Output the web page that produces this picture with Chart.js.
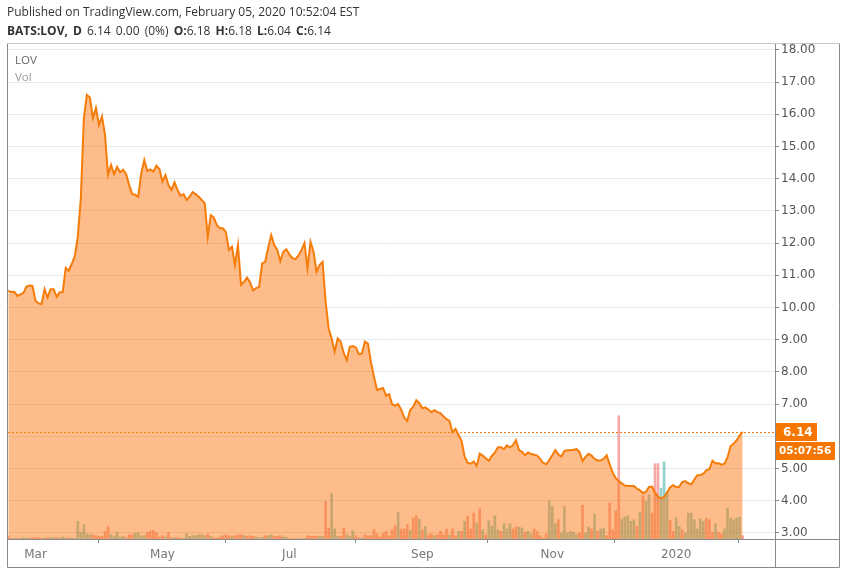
<!DOCTYPE html>
<html>
<head>
<meta charset="utf-8">
<script src="https://cdn.jsdelivr.net/npm/chart.js@4.4.1/dist/chart.umd.min.js"></script>
<style>
  html, body { margin: 0; padding: 0; background: #fff; }
  #wrap { position: relative; width: 846px; height: 574px; overflow: hidden; }
  #mycanvas { position: absolute; left: 0; top: 0; }
  .txt { position: absolute; white-space: nowrap; font-family: "Open Sans", sans-serif; }
  #pub { left: 7px; top: 3px; font-size: 12px; color: #333; }
  #sym { left: 7px; top: 22px; font-size: 12px; color: #333; word-spacing: 2px; }
  #sym b { font-weight: 700; }
  #lov { left: 15px; top: 52px; font-size: 11.5px; color: #666; }
  #vol { left: 15px; top: 69px; font-size: 11.5px; color: #999; }
</style>
</head>
<body>
<div id="wrap">
  <canvas id="mycanvas" width="846" height="574"></canvas>
  <div class="txt" id="pub">Published on TradingView.com, February 05, 2020 10:52:04 EST</div>
  <div class="txt" id="sym"><b>BATS:LOV, D</b> 6.14 0.00 (0%) <b>O:</b>6.18 <b>H:</b>6.18 <b>L:</b>6.04 <b>C:</b>6.14</div>
  <div class="txt" id="lov">LOV</div>
  <div class="txt" id="vol">Vol</div>
</div>
<script>
// daily closes, one per trading day (Feb 2019 - Feb 5 2020)
var prices = [
  10.52, 10.48, 10.49, 10.36, 10.41, 10.45, 10.65, 10.68, 10.67, 10.21,
  10.13, 10.11, 10.57, 10.31, 10.57, 10.57, 10.33, 10.47, 10.47, 11.23,
  11.14, 11.35, 11.60, 12.20, 13.39, 15.88, 16.60, 16.52, 15.88, 16.20,
  15.67, 15.93, 15.36, 14.12, 14.43, 14.14, 14.37, 14.20, 14.28, 14.14,
  13.80, 13.52, 13.50, 13.44, 14.17, 14.58, 14.24, 14.29, 14.22, 14.40,
  14.30, 13.91, 14.11, 13.80, 13.65, 13.89, 13.65, 13.47, 13.52, 13.34,
  13.44, 13.58, 13.52, 13.44, 13.34, 13.24, 12.20, 12.87, 12.79, 12.56,
  12.46, 12.46, 12.34, 11.79, 11.89, 11.32, 11.94, 10.70, 10.80, 10.93,
  10.78, 10.53, 10.60, 10.64, 11.37, 11.42, 11.86, 12.25, 11.94, 11.79,
  11.44, 11.73, 11.81, 11.65, 11.53, 11.50, 11.61, 11.78, 12.00, 11.22,
  12.04, 11.73, 11.11, 11.32, 11.42, 10.18, 9.35, 9.04, 8.63, 9.04,
  8.94, 8.58, 8.37, 8.78, 8.80, 8.76, 8.55, 8.57, 8.94, 8.88,
  8.30, 7.85, 7.44, 7.47, 7.50, 7.26, 7.31, 7.00, 6.95, 7.00,
  6.83, 6.58, 6.48, 6.82, 6.92, 7.12, 7.03, 6.87, 6.90, 6.83,
  6.75, 6.81, 6.75, 6.72, 6.62, 6.53, 6.48, 6.12, 6.23, 6.04,
  5.85, 5.37, 5.18, 5.15, 5.22, 5.08, 5.46, 5.40, 5.32, 5.24,
  5.39, 5.49, 5.66, 5.66, 5.60, 5.72, 5.66, 5.72, 5.88, 5.57,
  5.52, 5.41, 5.50, 5.45, 5.43, 5.40, 5.30, 5.17, 5.13, 5.26,
  5.41, 5.57, 5.44, 5.37, 5.55, 5.57, 5.57, 5.58, 5.60, 5.52,
  5.23, 5.36, 5.46, 5.40, 5.30, 5.25, 5.25, 5.30, 5.41, 5.12,
  4.87, 4.70, 4.61, 4.54, 4.47, 4.46, 4.46, 4.46, 4.38, 4.32,
  4.24, 4.28, 4.43, 4.44, 4.25, 4.12, 4.07, 4.12, 4.25, 4.42,
  4.48, 4.42, 4.43, 4.58, 4.61, 4.54, 4.51, 4.66, 4.79, 4.80,
  4.84, 4.95, 4.98, 5.24, 5.16, 5.16, 5.12, 5.15, 5.35, 5.70,
  5.77, 5.87, 6.02, 6.14
];

// daily volume (thousands of shares)
var volumes = [
  33, 7, 7, 7, 7, 13, 13, 7, 13, 13,
  13, 7, 13, 13, 13, 13, 13, 13, 20, 13,
  13, 7, 10, 177, 67, 143, 53, 43, 43, 33,
  27, 27, 77, 127, 43, 27, 67, 20, 27, 13,
  43, 43, 60, 67, 33, 33, 67, 77, 87, 67,
  20, 33, 20, 67, 13, 13, 13, 7, 7, 53,
  27, 33, 33, 43, 43, 33, 53, 27, 13, 7,
  20, 33, 43, 33, 27, 33, 43, 43, 33, 27,
  33, 27, 20, 13, 20, 33, 33, 43, 27, 27,
  33, 20, 20, 3, 2, 2, 2, 3, 7, 33,
  27, 27, 27, 27, 27, 377, 110, 453, 100, 27,
  27, 110, 43, 27, 83, 33, 13, 13, 43, 33,
  33, 93, 53, 20, 60, 77, 33, 93, 133, 267,
  100, 100, 143, 87, 210, 233, 200, 93, 127, 43,
  53, 33, 43, 77, 43, 100, 43, 100, 33, 77,
  77, 177, 227, 100, 260, 160, 303, 93, 43, 183,
  127, 233, 93, 77, 153, 100, 153, 100, 120, 120,
  110, 67, 77, 53, 100, 77, 33, 10, 53, 383,
  327, 153, 193, 60, 327, 60, 77, 67, 43, 60,
  337, 60, 120, 100, 250, 77, 100, 110, 33, 360,
  93, 283, 1235, 200, 220, 233, 177, 193, 127, 270,
  433, 377, 443, 260, 755, 755, 510, 773, 477, 187,
  77, 210, 127, 93, 60, 260, 260, 193, 100, 200,
  177, 210, 193, 67, 153, 67, 53, 100, 310, 210,
  193, 210, 220, 33
];

// volume bar direction: u = up, d = down, . = take it from the close
var volDir = [
  'd.........', '..........', '...uuuuudd', 'dddduuuuu.', 'dduuuudddd',
  '.d.d.....u', '.uuuuud...', 'dddd.ddd.d', '.....duudd', 'd.u......d',
  'd....dduu.', '.du.ud..d.', 'dd.ddddddu', 'ddduddud..', 'd.d.dduddu',
  'dud.dudu.u', '.u.du.uddu', 'u..ud....u', 'uuduu.....', 'd.u.u.uudd',
  '.dduuuuudu', 'duuddduuud', 'duuduuuuuu', 'udddudduuu', 'uuud'
].join('');

var monthTicks = [9, 51, 93, 137, 180, 221];
var monthLabels = ['Mar', 'May', 'Jul', 'Sep', 'Nov', '2020'];
var priceTicks = [3, 4, 5, 6, 7, 8, 9, 10, 11, 12, 13, 14, 15, 16, 17, 18];
var lastPrice = 6.14;
var countdown = '05:07:56';

var lineColor = '#f67c0a';
var upCol = 'rgba(38,166,154,0.5)';
var dnCol = 'rgba(239,83,80,0.5)';

var priceData = prices.map(function (p, i) { return { x: i, y: p }; });
var volData = volumes.map(function (v, i) { return { x: i, y: v }; });
var volColors = volumes.map(function (v, i) {
  var c = volDir.charAt(i);
  if (c !== 'u' && c !== 'd') c = (i > 0 && prices[i] < prices[i - 1]) ? 'd' : 'u';
  return c === 'd' ? dnCol : upCol;
});

var axisFont = { family: 'DejaVu Sans', size: 12 };

var framePlugin = {
  id: 'frame',
  afterDatasetsDraw: function (chart) {
    var ctx = chart.ctx, a = chart.chartArea;
    var y = Math.round(chart.scales.y.getPixelForValue(lastPrice)) + 0.5;
    ctx.save();
    ctx.strokeStyle = lineColor;
    ctx.lineWidth = 1;
    ctx.setLineDash([2, 2]);
    ctx.beginPath();
    ctx.moveTo(a.left, y);
    ctx.lineTo(a.right, y);
    ctx.stroke();
    ctx.restore();
  },
  afterDraw: function (chart) {
    var ctx = chart.ctx, a = chart.chartArea;
    ctx.save();
    ctx.strokeStyle = '#8a8a8a';
    ctx.lineWidth = 1;
    ctx.beginPath();
    ctx.moveTo(7.5, 43.5); ctx.lineTo(7.5, 567.5); ctx.lineTo(839.5, 567.5); ctx.lineTo(839.5, 43.5);
    ctx.moveTo(a.right + 0.5, 43.5); ctx.lineTo(a.right + 0.5, 567.5);
    ctx.moveTo(7.5, a.bottom + 0.5); ctx.lineTo(839.5, a.bottom + 0.5);
    ctx.stroke();
    ctx.strokeStyle = '#c8c8c8';
    ctx.beginPath();
    ctx.moveTo(7.5, 43.5); ctx.lineTo(839.5, 43.5);
    ctx.stroke();

    // last price + countdown tags on the price axis
    var y = Math.round(chart.scales.y.getPixelForValue(lastPrice));
    ctx.fillStyle = '#f57600';
    ctx.fillRect(a.right + 1, y - 9, 41, 18);
    ctx.fillRect(a.right + 1, y + 10, 59, 18);
    ctx.fillStyle = '#fff';
    ctx.font = 'bold 12px "DejaVu Sans"';
    ctx.textBaseline = 'middle';
    ctx.textAlign = 'left';
    ctx.fillText(lastPrice.toFixed(2), a.right + 8, y + 0.5);
    ctx.font = 'bold 10.5px "DejaVu Sans"';
    ctx.fillText(countdown, a.right + 4, y + 19.5);
    ctx.restore();
  }
};

var ctx = document.getElementById('mycanvas');

var chart = new Chart(ctx, {
  type: 'bar',
  data: {
    datasets: [
      {
        type: 'line',
        label: 'LOV',
        data: priceData,
        yAxisID: 'y',
        borderColor: lineColor,
        borderWidth: 2,
        backgroundColor: 'rgba(252,122,20,0.5)',
        fill: 'start',
        pointRadius: 0,
        tension: 0,
        order: 1
      },
      {
        type: 'bar',
        label: 'Vol',
        data: volData,
        yAxisID: 'yv',
        backgroundColor: volColors,
        barThickness: 2,
        order: 2
      }
    ]
  },
  options: {
    responsive: false,
    animation: false,
    layout: { padding: { left: 8, top: 44, right: 7, bottom: 7 } },
    plugins: { legend: { display: false }, tooltip: { enabled: false } },
    scales: {
      x: {
        type: 'linear',
        min: -0.1,
        max: 253.7,
        offset: false,
        afterBuildTicks: function (s) {
          s.ticks = monthTicks.map(function (v) { return { value: v }; });
        },
        afterFit: function (s) { s.height = 28; },
        ticks: {
          autoSkip: false,
          maxRotation: 0,
          padding: 5,
          color: '#777',
          font: axisFont,
          callback: function (v) {
            var i = monthTicks.indexOf(v);
            return i < 0 ? '' : monthLabels[i];
          }
        },
        grid: { drawOnChartArea: false, drawTicks: true, tickLength: 4, tickColor: '#8a8a8a' },
        border: { display: false }
      },
      y: {
        position: 'right',
        min: 2.811,
        max: 18.183,
        afterBuildTicks: function (s) {
          s.ticks = priceTicks.map(function (v) { return { value: v }; });
        },
        afterFit: function (s) { s.width = 64; },
        ticks: {
          padding: 2,
          color: '#555',
          font: axisFont,
          callback: function (v) { return Number(v).toFixed(2); }
        },
        grid: { color: '#e1ebf1', tickLength: 4, tickColor: '#8a8a8a' },
        border: { display: false }
      },
      yv: {
        display: false,
        min: 0,
        max: 4960
      }
    }
  },
  plugins: [framePlugin]
});
</script>
</body>
</html>
